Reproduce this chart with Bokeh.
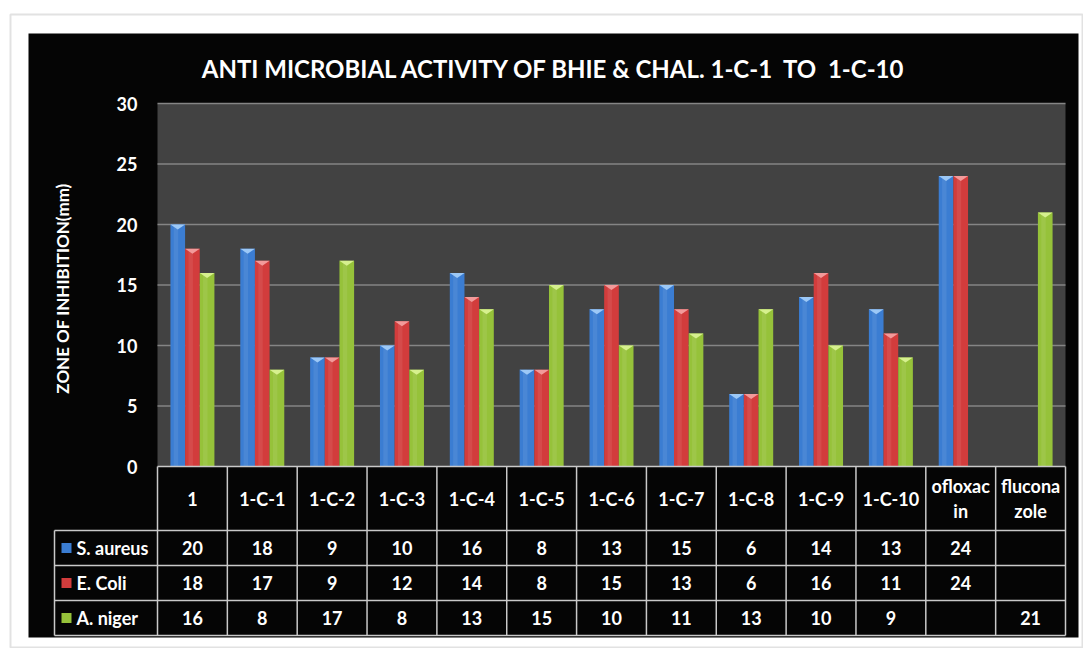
import numpy as np
from bokeh.plotting import figure
from bokeh.models import Range1d, ColumnDataSource
from bokeh.core.properties import value
from bokeh.embed import file_html
from bokeh.resources import INLINE

# ---------------- data ----------------
title_text = "ANTI MICROBIAL ACTIVITY OF BHIE & CHAL. 1-C-1\u00a0 TO\u00a0 1-C-10"
y_label = "ZONE OF INHIBITION(mm)"
categories = ["1", "1-C-1", "1-C-2", "1-C-3", "1-C-4", "1-C-5", "1-C-6",
              "1-C-7", "1-C-8", "1-C-9", "1-C-10", "ofloxac\nin", "flucona\nzole"]
series_names = ["S. aureus", "E. Coli", "A. niger"]
s_aureus = [20, 18, 9, 10, 16, 8, 13, 15, 6, 14, 13, 24, None]
e_coli = [18, 17, 9, 12, 14, 8, 15, 13, 6, 16, 11, 24, None]
a_niger = [16, 8, 17, 8, 13, 15, 10, 11, 13, 10, 9, None, 21]
y_ticks = [0, 5, 10, 15, 20, 25, 30]
series_colors = ["#3b7dd2", "#d23c3c", "#96c23a"]
cap_colors = ["#9cc8f6", "#f29a9a", "#d6f08e"]

# ---------------- layout helpers ----------------
W, H = 1083, 648
X0PX, Y0PX = 157, 466          # pixel of data origin (x=0, y=0)
UX = (1065 - 157) / 13.0       # px per category
UY = (466 - 103) / 30.0        # px per y unit


def dx(px):
    return (px - X0PX) / UX


def dy(py):
    return (Y0PX - py) / UY


FONT = value("Lato")
TFS = "18px"
n = len(categories)

p = figure(width=W, height=H, min_border=0, toolbar_location=None,
           output_backend="svg",
           x_range=Range1d(dx(0), dx(W)), y_range=Range1d(dy(H), dy(0)))
p.axis.visible = False
p.grid.visible = False
p.outline_line_color = None
p.background_fill_color = "white"
p.border_fill_color = "white"

# page frame and black chart area
p.quad(left=dx(10), right=dx(1082), top=dy(14), bottom=dy(647),
       fill_color=None, line_color="#e2e2e2", line_width=2)
p.quad(left=dx(28), right=dx(1078), top=dy(33), bottom=dy(637),
       fill_color="#050505", line_color=None)
# plot area
p.quad(left=0, right=n, top=max(y_ticks), bottom=0,
       fill_color="#424242", line_color=None)

# gridlines
gt = [t for t in y_ticks if t > 0]
p.segment(x0=[0] * len(gt), x1=[n] * len(gt), y0=gt, y1=gt,
          line_color="#858585", line_width=1.5)

# bars
BW = 0.21
series = [s_aureus, e_coli, a_niger]
xc = np.arange(n) + 0.5
cap_h = 5.0 / UY
for si, vals in enumerate(series):
    xs = xc + (si - 1) * BW
    tops = [np.nan if v is None else v for v in vals]
    src = ColumnDataSource(dict(x=xs, top=tops))
    p.vbar(x="x", top="top", bottom=0, width=BW, source=src,
           fill_color=series_colors[si], line_color=None)
    # subtle cylinder highlight
    p.vbar(x=xs - BW * 0.12, top=tops, bottom=0, width=BW * 0.3,
           fill_color="white", fill_alpha=0.08, line_color=None)
    # top cap
    cxs, cys = [], []
    for x, v in zip(xs, vals):
        if v is None:
            continue
        cxs.append([x - BW / 2, x + BW / 2, x])
        cys.append([v, v, v - cap_h])
    p.patches(xs=cxs, ys=cys, fill_color=cap_colors[si], line_color=None)

# y tick labels
p.text(x=[dx(137)] * len(y_ticks), y=y_ticks, text=[str(t) for t in y_ticks],
       text_align="right", text_baseline="middle", text_color="white",
       text_font=FONT, text_font_style="bold", text_font_size="18px")

# y axis label
p.text(x=[dx(62)], y=[dy(288)], text=[y_label], angle=np.pi / 2,
       text_align="center", text_baseline="middle", text_color="white",
       text_font=FONT, text_font_style="bold", text_font_size="17px")

# title
p.text(x=[dx(554)], y=[dy(68)], text=[title_text],
       text_align="center", text_baseline="middle", text_color="white",
       text_font=FONT, text_font_style="bold", text_font_size="24px")

# data table
header_bottom = dy(530)
row_lines = [dy(565), dy(600), dy(635)]
leg_left = dx(54)
line_col = "#c9c9c9"
hy = [0, header_bottom] + row_lines
hx0 = [0] + [leg_left] * (len(hy) - 1)
p.segment(x0=hx0, x1=[n] * len(hy), y0=hy, y1=hy, line_color=line_col, line_width=1.5)
vx = list(range(n + 1))
p.segment(x0=vx, x1=vx, y0=[0] * len(vx), y1=[row_lines[-1]] * len(vx),
          line_color=line_col, line_width=1.5)
p.segment(x0=[leg_left], x1=[leg_left], y0=[header_bottom], y1=[row_lines[-1]],
          line_color=line_col, line_width=1.5)

p.text(x=xc, y=[header_bottom / 2] * n, text=categories,
       text_align="center", text_baseline="middle", text_color="white",
       text_font=FONT, text_font_style="bold", text_font_size=TFS,
       text_line_height=1.15)

row_tops = [header_bottom] + row_lines[:-1]
for si, vals in enumerate(series):
    yc = (row_tops[si] + row_lines[si]) / 2
    p.text(x=xc, y=[yc] * n, text=["" if v is None else str(v) for v in vals],
           text_align="center", text_baseline="middle", text_color="white",
           text_font=FONT, text_font_style="bold", text_font_size=TFS)
    p.scatter(x=[dx(66)], y=[yc], marker="square", size=10,
              fill_color=series_colors[si], line_color=None)
    p.text(x=[dx(76)], y=[yc], text=[series_names[si]],
           text_align="left", text_baseline="middle", text_color="white",
           text_font=FONT, text_font_style="bold", text_font_size=TFS)

open("out.html", "w").write(file_html(p, INLINE))
